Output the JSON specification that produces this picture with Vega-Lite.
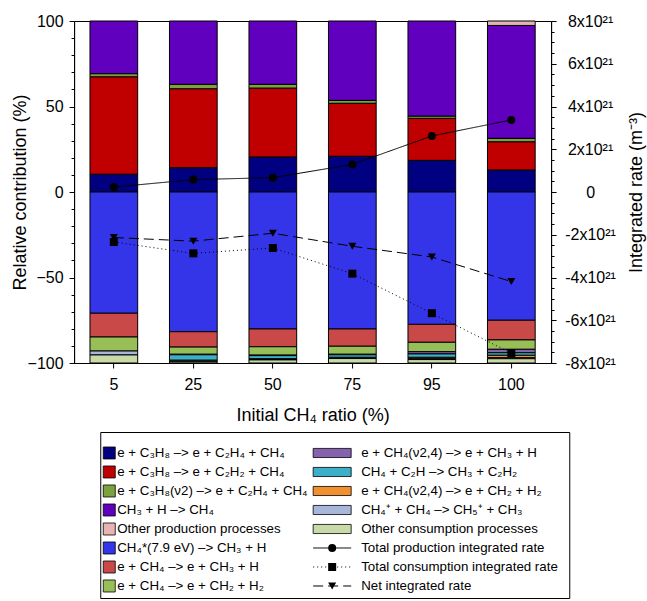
{
  "$schema": "https://vega.github.io/schema/vega-lite/v6.json",
  "padding": {"left": 10, "top": 12, "right": 1, "bottom": 2},
  "spacing": 6,
  "center": true,
  "config": {
    "font": "Liberation Sans",
    "view": {"stroke": "black", "strokeWidth": 1},
    "axis": {"domainColor": "black", "tickColor": "black", "labelColor": "black", "titleColor": "black", "titleFontWeight": "normal", "labelFont": "Liberation Sans", "titleFont": "Liberation Sans", "grid": false, "domainWidth": 1, "tickWidth": 1, "labelFontSize": 16, "titleFontSize": 18}
  },
  "datasets": {
    "bars": [
      {"ratio": "5", "id": "P1", "k": 1, "pct": 10.4}, {"ratio": "5", "id": "P2", "k": 2, "pct": 57.0}, {"ratio": "5", "id": "P3", "k": 3, "pct": 1.8}, {"ratio": "5", "id": "P4", "k": 4, "pct": 30.8},
      {"ratio": "5", "id": "N1", "k": 6, "pct": -70.9}, {"ratio": "5", "id": "N2", "k": 7, "pct": -13.9}, {"ratio": "5", "id": "N3", "k": 8, "pct": -8.2}, {"ratio": "5", "id": "N7", "k": 12, "pct": -2.3}, {"ratio": "5", "id": "N8", "k": 13, "pct": -4.7},
      {"ratio": "25", "id": "P1", "k": 1, "pct": 14.2}, {"ratio": "25", "id": "P2", "k": 2, "pct": 46.2}, {"ratio": "25", "id": "P3", "k": 3, "pct": 2.6}, {"ratio": "25", "id": "P4", "k": 4, "pct": 37.0},
      {"ratio": "25", "id": "N1", "k": 6, "pct": -81.7}, {"ratio": "25", "id": "N2", "k": 7, "pct": -9.0}, {"ratio": "25", "id": "N3", "k": 8, "pct": -4.2}, {"ratio": "25", "id": "N4", "k": 9, "pct": -0.3}, {"ratio": "25", "id": "N5", "k": 10, "pct": -3.2}, {"ratio": "25", "id": "N6", "k": 11, "pct": -0.6}, {"ratio": "25", "id": "N7", "k": 12, "pct": -0.3}, {"ratio": "25", "id": "N8", "k": 13, "pct": -0.7},
      {"ratio": "50", "id": "P1", "k": 1, "pct": 20.5}, {"ratio": "50", "id": "P2", "k": 2, "pct": 40.3}, {"ratio": "50", "id": "P3", "k": 3, "pct": 2.2}, {"ratio": "50", "id": "P4", "k": 4, "pct": 37.0},
      {"ratio": "50", "id": "N1", "k": 6, "pct": -80.1}, {"ratio": "50", "id": "N2", "k": 7, "pct": -10.4}, {"ratio": "50", "id": "N3", "k": 8, "pct": -4.9}, {"ratio": "50", "id": "N4", "k": 9, "pct": -0.3}, {"ratio": "50", "id": "N5", "k": 10, "pct": -1.9}, {"ratio": "50", "id": "N6", "k": 11, "pct": -0.3}, {"ratio": "50", "id": "N7", "k": 12, "pct": -0.3}, {"ratio": "50", "id": "N8", "k": 13, "pct": -1.8},
      {"ratio": "75", "id": "P1", "k": 1, "pct": 20.9}, {"ratio": "75", "id": "P2", "k": 2, "pct": 31.0}, {"ratio": "75", "id": "P3", "k": 3, "pct": 1.7}, {"ratio": "75", "id": "P4", "k": 4, "pct": 46.4},
      {"ratio": "75", "id": "N1", "k": 6, "pct": -80.1}, {"ratio": "75", "id": "N2", "k": 7, "pct": -10.1}, {"ratio": "75", "id": "N3", "k": 8, "pct": -4.7}, {"ratio": "75", "id": "N4", "k": 9, "pct": -0.3}, {"ratio": "75", "id": "N5", "k": 10, "pct": -1.5}, {"ratio": "75", "id": "N6", "k": 11, "pct": -0.3}, {"ratio": "75", "id": "N7", "k": 12, "pct": -0.4}, {"ratio": "75", "id": "N8", "k": 13, "pct": -2.6},
      {"ratio": "95", "id": "P1", "k": 1, "pct": 18.5}, {"ratio": "95", "id": "P2", "k": 2, "pct": 24.6}, {"ratio": "95", "id": "P3", "k": 3, "pct": 1.3}, {"ratio": "95", "id": "P4", "k": 4, "pct": 55.6},
      {"ratio": "95", "id": "N1", "k": 6, "pct": -77.4}, {"ratio": "95", "id": "N2", "k": 7, "pct": -10.5}, {"ratio": "95", "id": "N3", "k": 8, "pct": -5.5}, {"ratio": "95", "id": "N4", "k": 9, "pct": -1.3}, {"ratio": "95", "id": "N5", "k": 10, "pct": -2.0}, {"ratio": "95", "id": "N6", "k": 11, "pct": -0.8}, {"ratio": "95", "id": "N7", "k": 12, "pct": -0.5}, {"ratio": "95", "id": "N8", "k": 13, "pct": -2.0},
      {"ratio": "100", "id": "P1", "k": 1, "pct": 12.9}, {"ratio": "100", "id": "P2", "k": 2, "pct": 16.5}, {"ratio": "100", "id": "P3", "k": 3, "pct": 2.0}, {"ratio": "100", "id": "P4", "k": 4, "pct": 66.0}, {"ratio": "100", "id": "P5", "k": 5, "pct": 2.6},
      {"ratio": "100", "id": "N1", "k": 6, "pct": -75.0}, {"ratio": "100", "id": "N2", "k": 7, "pct": -11.5}, {"ratio": "100", "id": "N3", "k": 8, "pct": -5.5}, {"ratio": "100", "id": "N4", "k": 9, "pct": -2.0}, {"ratio": "100", "id": "N5", "k": 10, "pct": -1.5}, {"ratio": "100", "id": "N6", "k": 11, "pct": -1.4}, {"ratio": "100", "id": "N7", "k": 12, "pct": -0.6}, {"ratio": "100", "id": "N8", "k": 13, "pct": -2.5}
    ],
    "rates": [
      {"ratio": "5", "id": "prod", "rate": 0.23}, {"ratio": "25", "id": "prod", "rate": 0.58}, {"ratio": "50", "id": "prod", "rate": 0.67}, {"ratio": "75", "id": "prod", "rate": 1.29}, {"ratio": "95", "id": "prod", "rate": 2.62}, {"ratio": "100", "id": "prod", "rate": 3.37},
      {"ratio": "5", "id": "cons", "rate": -2.34}, {"ratio": "25", "id": "cons", "rate": -2.87}, {"ratio": "50", "id": "cons", "rate": -2.62}, {"ratio": "75", "id": "cons", "rate": -3.82}, {"ratio": "95", "id": "cons", "rate": -5.67}, {"ratio": "100", "id": "cons", "rate": -7.54},
      {"ratio": "5", "id": "net", "rate": -2.13}, {"ratio": "25", "id": "net", "rate": -2.30}, {"ratio": "50", "id": "net", "rate": -1.93}, {"ratio": "75", "id": "net", "rate": -2.54}, {"ratio": "95", "id": "net", "rate": -3.04}, {"ratio": "100", "id": "net", "rate": -4.19}
    ],
    "legend": [
      {"id": "P1", "kind": "fill", "col": 1, "row": 1, "label": "e + C₃H₈ –> e + C₂H₄ + CH₄"},
      {"id": "P2", "kind": "fill", "col": 1, "row": 2, "label": "e + C₃H₈ –> e + C₂H₂ + CH₄"},
      {"id": "P3", "kind": "fill", "col": 1, "row": 3, "label": "e + C₃H₈(ν2) –> e + C₂H₄ + CH₄"},
      {"id": "P4", "kind": "fill", "col": 1, "row": 4, "label": "CH₃ + H –> CH₄"},
      {"id": "P5", "kind": "fill", "col": 1, "row": 5, "label": "Other production processes"},
      {"id": "N1", "kind": "fill", "col": 1, "row": 6, "label": "CH₄*(7.9 eV) –> CH₃ + H"},
      {"id": "N2", "kind": "fill", "col": 1, "row": 7, "label": "e + CH₄ –> e + CH₃ + H"},
      {"id": "N3", "kind": "fill", "col": 1, "row": 8, "label": "e + CH₄ –> e + CH₂ + H₂"},
      {"id": "N4", "kind": "fill", "col": 2, "row": 1, "label": "e + CH₄(ν2,4) –> e + CH₃ + H"},
      {"id": "N5", "kind": "fill", "col": 2, "row": 2, "label": "CH₄ + C₂H –> CH₃ + C₂H₂"},
      {"id": "N6", "kind": "fill", "col": 2, "row": 3, "label": "e + CH₄(ν2,4) –> e + CH₂ + H₂"},
      {"id": "N7", "kind": "fill", "col": 2, "row": 4, "label": "CH₄⁺ + CH₄ –> CH₅⁺ + CH₃"},
      {"id": "N8", "kind": "fill", "col": 2, "row": 5, "label": "Other consumption processes"},
      {"id": "prod", "kind": "line", "col": 2, "row": 6, "label": "Total production integrated rate"},
      {"id": "cons", "kind": "line", "col": 2, "row": 7, "label": "Total consumption integrated rate"},
      {"id": "net", "kind": "line", "col": 2, "row": 8, "label": "Net integrated rate"}
    ]
  },
  "vconcat": [
    {
      "width": 477,
      "height": 342,
      "layer": [
        {
          "data": {"name": "bars"},
          "mark": {"type": "bar", "stroke": "black", "strokeWidth": 1},
          "encoding": {
            "x": {"field": "ratio", "type": "ordinal", "scale": {"domain": ["5", "25", "50", "75", "95", "100"], "paddingInner": 0.4, "paddingOuter": 0.2},
              "axis": {"title": "Initial CH₄ ratio (%)", "labelAngle": 0, "tickSize": 5, "labelPadding": 8, "titlePadding": 14}},
            "y": {"field": "pct", "type": "quantitative", "stack": "zero", "scale": {"domain": [-100, 100], "nice": false},
              "axis": {"orient": "left", "values": [-100, -50, 0, 50, 100], "title": "Relative contribution (%)", "tickSize": 5, "labelPadding": 6, "titlePadding": -2}},
            "color": {"field": "id", "type": "nominal", "legend": null,
              "scale": {"domain": ["P1", "P2", "P3", "P4", "P5", "N1", "N2", "N3", "N4", "N5", "N6", "N7", "N8"],
                "range": ["#000080", "#C00000", "#7BA23F", "#6000BE", "#E6B4B4", "#3434E8", "#C94848", "#98BF57", "#8462AD", "#3BB0C8", "#F0902E", "#A7B7DA", "#C9DAA8"]}},
            "order": {"field": "k", "type": "quantitative"}
          }
        },
        {
          "mark": {"type": "rule", "color": "black", "strokeWidth": 1},
          "encoding": {
            "y": {"datum": 0, "type": "quantitative", "scale": {"domain": [-100, 100], "nice": false},
              "axis": {"orient": "left", "values": [-90, -80, -70, -60, -40, -30, -20, -10, 10, 20, 30, 40, 60, 70, 80, 90], "labels": false, "tickSize": 3, "title": null, "domain": false}}
          }
        },
        {
          "data": {"name": "rates"},
          "mark": {"type": "line", "color": "black", "strokeWidth": 1},
          "encoding": {
            "x": {"field": "ratio", "type": "ordinal"},
            "y": {"field": "rate", "type": "quantitative", "scale": {"domain": [-8, 8], "nice": false},
              "axis": {"orient": "right", "values": [-8, -6, -4, -2, 0, 2, 4, 6, 8], "labelExpr": "datum.value == 0 ? '0' : datum.value + 'x10²¹'", "labelAlign": "center", "labelPadding": 34, "tickSize": 5, "title": "Integrated rate (m⁻³)", "titleAngle": -90, "titleBaseline": "top", "titlePadding": 12}},
            "strokeDash": {"field": "id", "type": "nominal", "legend": null, "scale": {"domain": ["prod", "cons", "net"], "range": [[1, 0], [1, 3], [10, 5]]}}
          }
        },
        {
          "data": {"name": "rates"},
          "mark": {"type": "point", "filled": true, "color": "black", "opacity": 1, "size": 64},
          "encoding": {
            "x": {"field": "ratio", "type": "ordinal"},
            "y": {"field": "rate", "type": "quantitative", "scale": {"domain": [-8, 8], "nice": false},
              "axis": {"orient": "right", "values": [-7.5, -7, -6.5, -5.5, -5, -4.5, -3.5, -3, -2.5, -1.5, -1, -0.5, 0.5, 1, 1.5, 2.5, 3, 3.5, 4.5, 5, 5.5, 6.5, 7, 7.5], "labels": false, "tickSize": 3, "title": null, "domain": false}},
            "shape": {"field": "id", "type": "nominal", "legend": null, "scale": {"domain": ["prod", "cons", "net"], "range": ["circle", "square", "triangle-down"]}}
          }
        }
      ],
      "resolve": {"scale": {"y": "independent"}}
    },
    {
      "width": 469,
      "height": 166,
      "data": {"name": "legend"},
      "encoding": {
        "x": {"field": "col", "type": "ordinal", "scale": {"type": "point", "domain": [1, 2], "padding": 0.552, "align": 0.0366}, "axis": null},
        "y": {"field": "row", "type": "ordinal", "scale": {"type": "point", "domain": [1, 2, 3, 4, 5, 6, 7, 8], "padding": 0.868, "align": 0.636},
          "axis": {"orient": "right", "labels": false, "ticks": false, "domain": false, "title": ".", "titleFontSize": 2, "titleColor": "transparent", "titlePadding": 48}}
      },
      "layer": [
        {
          "transform": [{"filter": "datum.kind == 'fill' && datum.col == 1"}],
          "mark": {"type": "point", "shape": "square", "filled": true, "size": 144, "stroke": "black", "strokeWidth": 0.8, "opacity": 1},
          "encoding": {"color": {"field": "id", "type": "nominal", "legend": null,
              "scale": {"domain": ["P1", "P2", "P3", "P4", "P5", "N1", "N2", "N3", "N4", "N5", "N6", "N7", "N8"],
                "range": ["#000080", "#C00000", "#7BA23F", "#6000BE", "#E6B4B4", "#3434E8", "#C94848", "#98BF57", "#8462AD", "#3BB0C8", "#F0902E", "#A7B7DA", "#C9DAA8"]}}}
        },
        {
          "transform": [{"filter": "datum.kind == 'fill' && datum.col == 2"}],
          "mark": {"type": "point", "shape": "M-1,-0.24H1V0.24H-1Z", "filled": true, "size": 1444, "stroke": "black", "strokeWidth": 0.8, "opacity": 1},
          "encoding": {"color": {"field": "id", "type": "nominal", "legend": null,
              "scale": {"domain": ["P1", "P2", "P3", "P4", "P5", "N1", "N2", "N3", "N4", "N5", "N6", "N7", "N8"],
                "range": ["#000080", "#C00000", "#7BA23F", "#6000BE", "#E6B4B4", "#3434E8", "#C94848", "#98BF57", "#8462AD", "#3BB0C8", "#F0902E", "#A7B7DA", "#C9DAA8"]}}}
        },
        {
          "transform": [{"filter": "datum.kind == 'line'"}],
          "mark": {"type": "point", "shape": "M-1,0L1,0", "filled": false, "size": 1444, "color": "black", "strokeWidth": 1, "opacity": 1},
          "encoding": {"strokeDash": {"field": "id", "type": "nominal", "legend": null, "scale": {"domain": ["prod", "cons", "net"], "range": [[1, 0], [1, 3], [10, 5]]}}}
        },
        {
          "transform": [{"filter": "datum.kind == 'line'"}],
          "mark": {"type": "point", "filled": true, "color": "black", "opacity": 1, "size": 64},
          "encoding": {"shape": {"field": "id", "type": "nominal", "legend": null, "scale": {"domain": ["prod", "cons", "net"], "range": ["circle", "square", "triangle-down"]}}}
        },
        {
          "transform": [{"filter": "datum.col == 1"}],
          "mark": {"type": "text", "align": "left", "baseline": "middle", "dx": 8, "fontSize": 13.3, "font": "Liberation Sans", "color": "black"},
          "encoding": {"text": {"field": "label"}}
        },
        {
          "transform": [{"filter": "datum.col == 2"}],
          "mark": {"type": "text", "align": "left", "baseline": "middle", "dx": 29, "fontSize": 13.3, "font": "Liberation Sans", "color": "black"},
          "encoding": {"text": {"field": "label"}}
        }
      ]
    }
  ]
}
